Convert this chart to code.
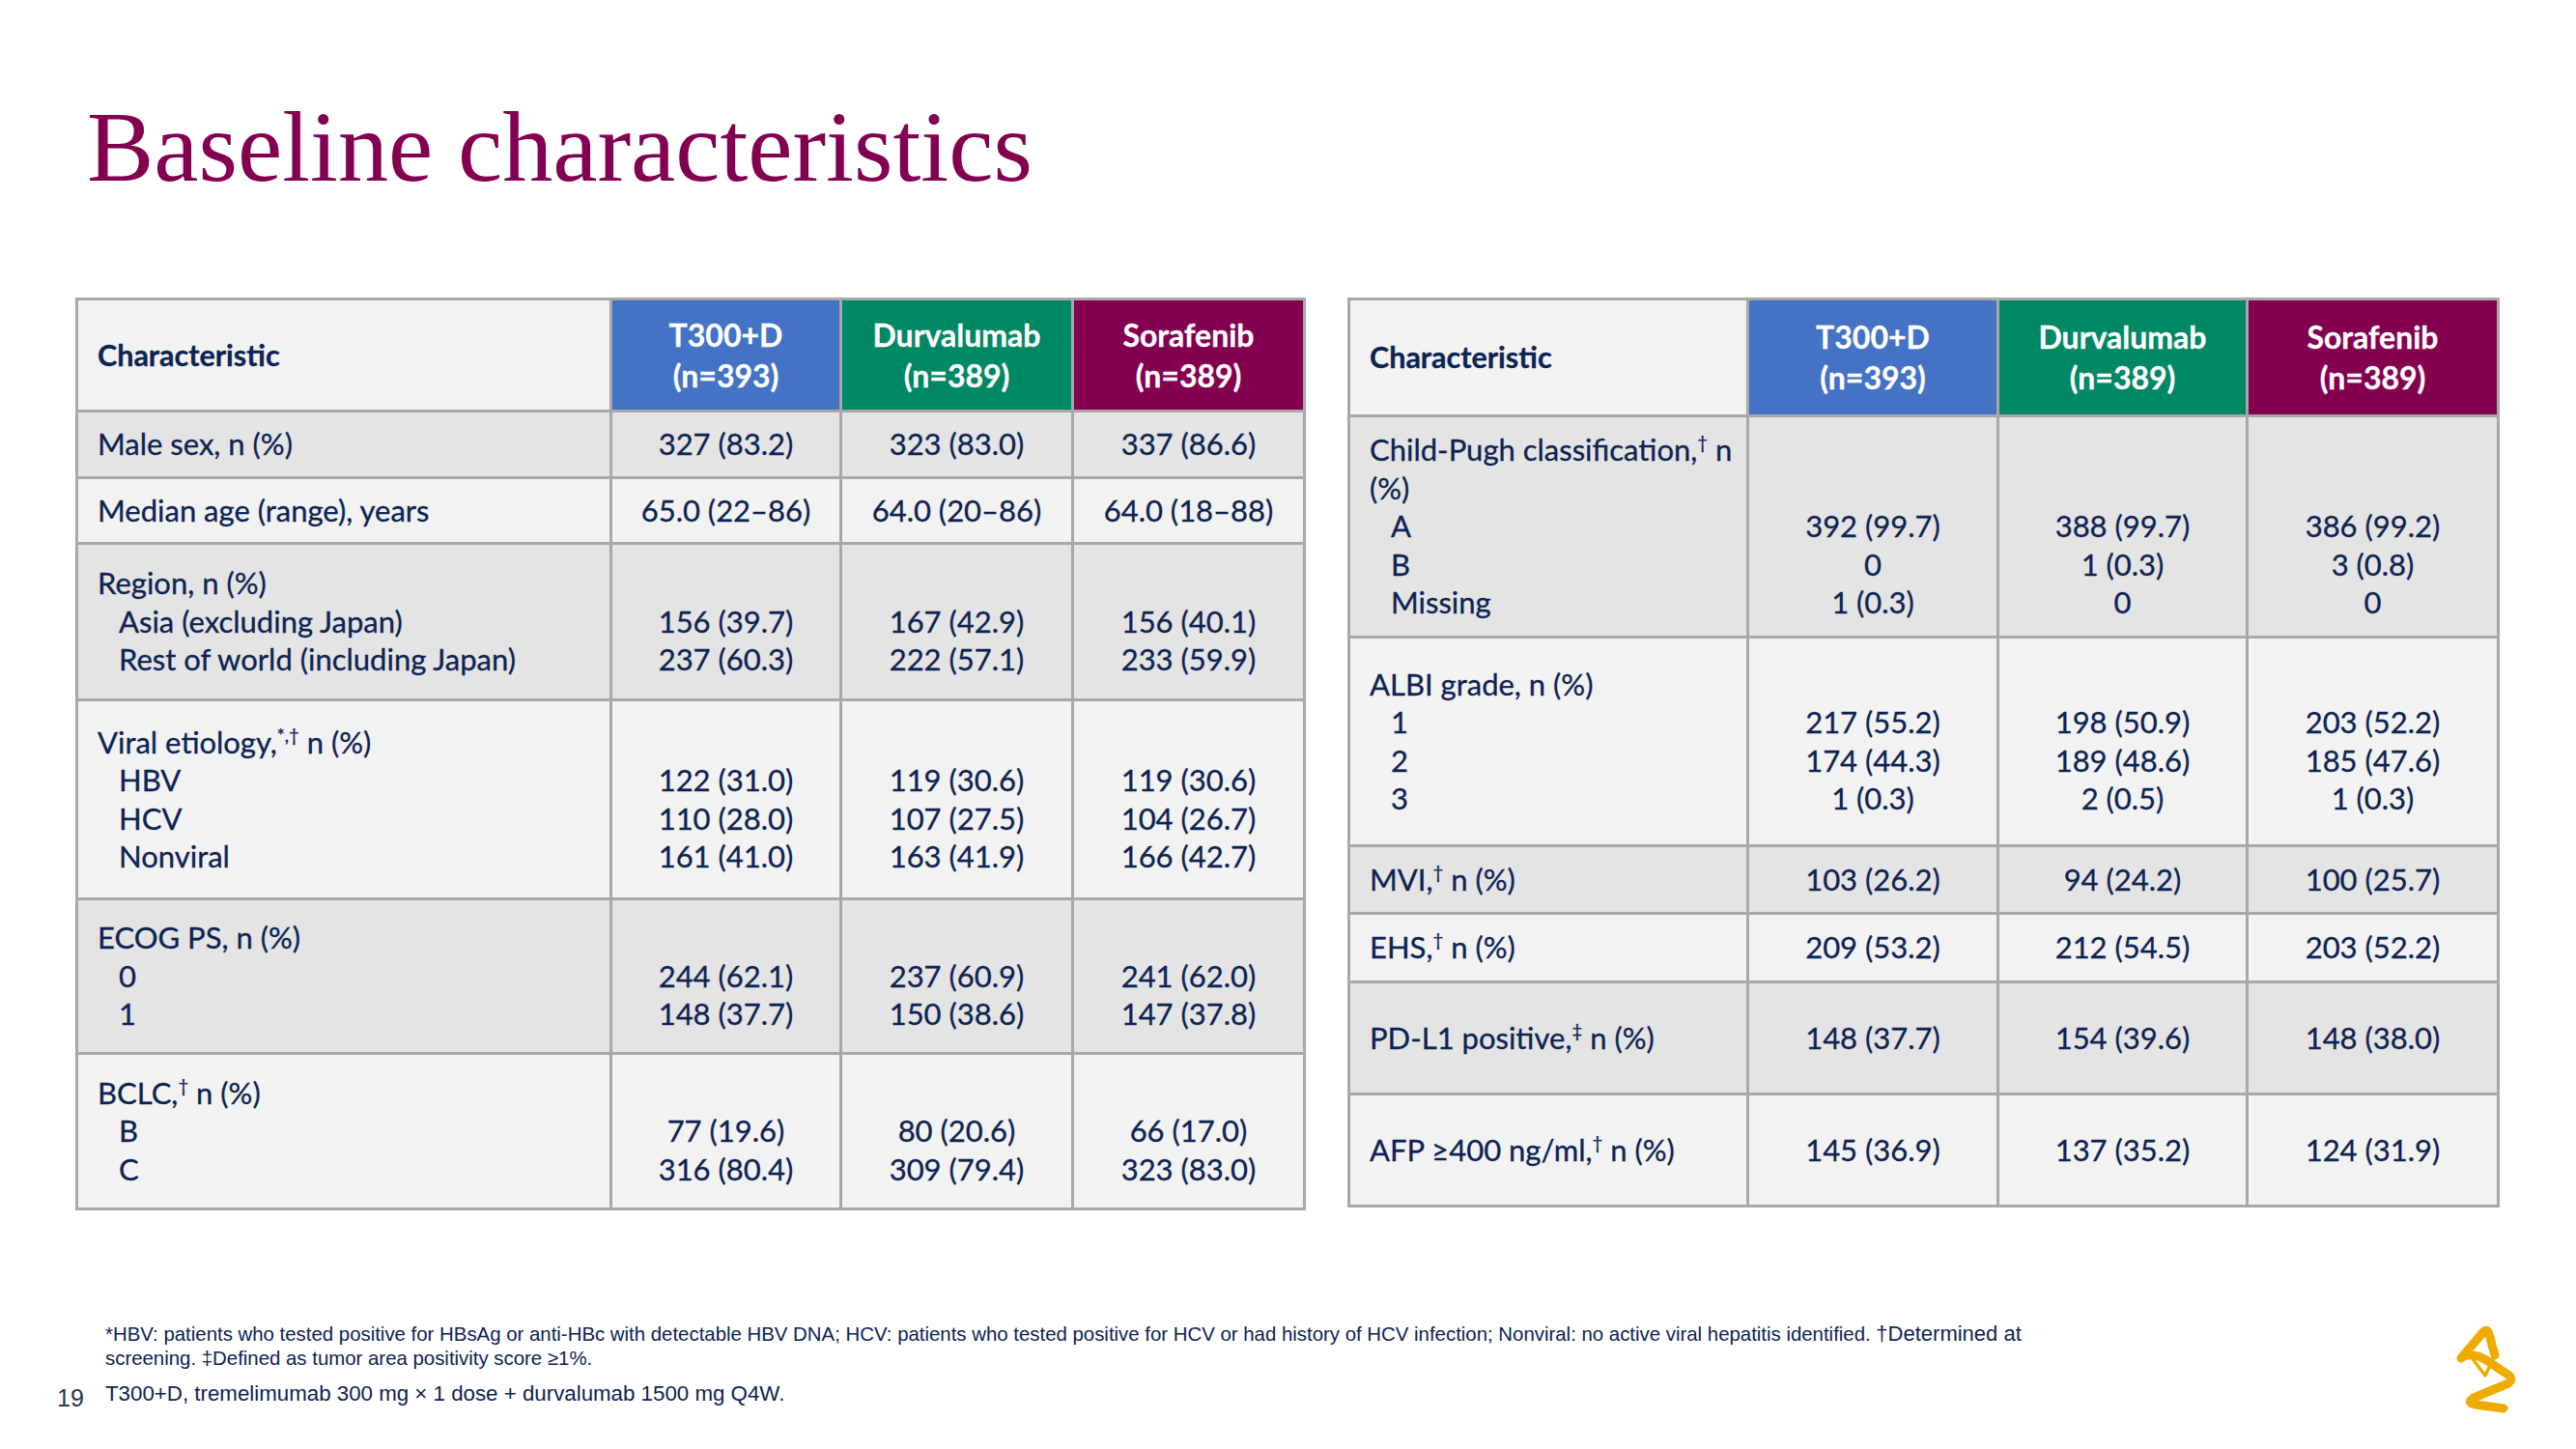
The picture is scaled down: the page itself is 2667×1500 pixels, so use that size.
<!DOCTYPE html>
<html>
<head>
<meta charset="utf-8">
<script src="https://cdn.jsdelivr.net/npm/chart.js@4.4.1/dist/chart.umd.min.js"></script>
<style>
  html, body { margin:0; padding:0; background:#fff; }
  body { width:2667px; height:1500px; position:relative; overflow:hidden; font-family:Lato, "Open Sans", sans-serif; color:#0d2352; }
  #title { position:absolute; left:90px; top:100px; font-family:"Liberation Serif", "DejaVu Serif", serif; font-size:104px; line-height:104px; color:#830051; white-space:nowrap; }
  table.bt { position:absolute; border-collapse:collapse; table-layout:fixed; font-size:31px; -webkit-text-stroke:0.3px #0d2352; }
  table.bt td, table.bt th { border:3px solid #a8a8a8; padding:0 0 0 20px; vertical-align:middle; line-height:39.5px; white-space:nowrap; }
  table.bt th { font-weight:700; text-align:left; font-size:30.5px; }
  table.bt th.g { color:#fff; text-align:center; padding:0; font-size:32px; line-height:42px; -webkit-text-stroke:0.3px #fff; }
  table.bt td.v { text-align:center; padding:0; }
  .sub { padding-left:22px; }
  sup { font-size:0.6em; line-height:0; vertical-align:0.65em; }
  .dk { background:#e4e4e4; }
  .lt { background:#f2f2f2; }
  #fn { position:absolute; left:109px; top:1368px; font-family:"Liberation Sans", Arial, sans-serif; font-size:20.4px; line-height:25px; color:#0d2352; white-space:nowrap; }
  #abbr { position:absolute; left:109px; top:1429px; font-family:"Liberation Sans", Arial, sans-serif; font-size:22.3px; line-height:27px; color:#0d2352; white-space:nowrap; }
  #pg { position:absolute; left:59px; top:1432px; font-family:"Liberation Sans", Arial, sans-serif; font-size:25px; line-height:30px; color:#2a3550; }
  #logo { position:absolute; left:2530px; top:1366px; }
</style>
</head>
<body>
<script>
// ---- data ----
const groups = ['T300+D', 'Durvalumab', 'Sorafenib'];
const groupN = ['(n=393)', '(n=389)', '(n=389)'];
const groupColors = ['#4472c4', '#008763', '#830051'];

const leftLabels = [
  ['Male sex, n (%)'],
  ['Median age (range), years'],
  ['Region, n (%)', 'Asia (excluding Japan)', 'Rest of world (including Japan)'],
  ['Viral etiology,<sup>*,†</sup> n (%)', 'HBV', 'HCV', 'Nonviral'],
  ['ECOG PS, n (%)', '0', '1'],
  ['BCLC,<sup>†</sup> n (%)', 'B', 'C']
];
const leftT300D = [['327 (83.2)'], ['65.0 (22–86)'], ['', '156 (39.7)', '237 (60.3)'], ['', '122 (31.0)', '110 (28.0)', '161 (41.0)'], ['', '244 (62.1)', '148 (37.7)'], ['', '77 (19.6)', '316 (80.4)']];
const leftDurva = [['323 (83.0)'], ['64.0 (20–86)'], ['', '167 (42.9)', '222 (57.1)'], ['', '119 (30.6)', '107 (27.5)', '163 (41.9)'], ['', '237 (60.9)', '150 (38.6)'], ['', '80 (20.6)', '309 (79.4)']];
const leftSoraf = [['337 (86.6)'], ['64.0 (18–88)'], ['', '156 (40.1)', '233 (59.9)'], ['', '119 (30.6)', '104 (26.7)', '166 (42.7)'], ['', '241 (62.0)', '147 (37.8)'], ['', '66 (17.0)', '323 (83.0)']];

const rightLabels = [
  ['Child-Pugh classification,<sup>†</sup> n', '(%)', 'A', 'B', 'Missing'],
  ['ALBI grade, n (%)', '1', '2', '3'],
  ['MVI,<sup>†</sup> n (%)'],
  ['EHS,<sup>†</sup> n (%)'],
  ['PD-L1 positive,<sup>‡</sup> n (%)'],
  ['AFP ≥400 ng/ml,<sup>†</sup> n (%)']
];
const rightT300D = [['', '', '392 (99.7)', '0', '1 (0.3)'], ['', '217 (55.2)', '174 (44.3)', '1 (0.3)'], ['103 (26.2)'], ['209 (53.2)'], ['148 (37.7)'], ['145 (36.9)']];
const rightDurva = [['', '', '388 (99.7)', '1 (0.3)', '0'], ['', '198 (50.9)', '189 (48.6)', '2 (0.5)'], ['94 (24.2)'], ['212 (54.5)'], ['154 (39.6)'], ['137 (35.2)']];
const rightSoraf = [['', '', '386 (99.2)', '3 (0.8)', '0'], ['', '203 (52.2)', '185 (47.6)', '1 (0.3)'], ['100 (25.7)'], ['203 (52.2)'], ['148 (38.0)'], ['124 (31.9)']];

// ---- layout (styles only) ----
const leftLayout = { x: 78, y: 308, cols: [553, 238, 240, 240], head: 116, rows: [69, 68, 162, 206, 160, 161], shade: ['dk', 'lt', 'dk', 'lt', 'dk', 'lt'], subFrom: [9, 9, 1, 1, 1, 1] };
const rightLayout = { x: 1395, y: 308, cols: [413, 259, 258, 260], head: 121, rows: [229, 216, 70, 71, 116, 116], shade: ['dk', 'lt', 'dk', 'lt', 'dk', 'lt'], subFrom: [2, 1, 9, 9, 9, 9] };

function buildTable(labels, seriesList, L) {
  const t = document.createElement('table');
  t.className = 'bt';
  t.style.left = L.x + 'px';
  t.style.top = L.y + 'px';
  t.style.width = L.cols.reduce((a, b) => a + b, 0) + 'px';
  const cg = document.createElement('colgroup');
  L.cols.forEach(w => { const c = document.createElement('col'); c.style.width = w + 'px'; cg.appendChild(c); });
  t.appendChild(cg);
  const hr = document.createElement('tr');
  hr.style.height = L.head + 'px';
  const h0 = document.createElement('th');
  h0.textContent = 'Characteristic';
  h0.className = 'lt';
  hr.appendChild(h0);
  groups.forEach((g, i) => {
    const th = document.createElement('th');
    th.className = 'g';
    th.style.background = groupColors[i];
    th.innerHTML = g + '<br>' + groupN[i];
    hr.appendChild(th);
  });
  t.appendChild(hr);
  labels.forEach((lab, r) => {
    const tr = document.createElement('tr');
    tr.style.height = L.rows[r] + 'px';
    tr.className = L.shade[r];
    const td = document.createElement('td');
    td.innerHTML = lab.map((s, k) => k >= L.subFrom[r] ? '<div class="sub">' + s + '</div>' : '<div>' + s + '</div>').join('');
    tr.appendChild(td);
    seriesList.forEach(ser => {
      const c = document.createElement('td');
      c.className = 'v';
      c.innerHTML = ser[r].map(s => '<div>' + (s === '' ? '&nbsp;' : s) + '</div>').join('');
      tr.appendChild(c);
    });
    t.appendChild(tr);
  });
  document.body.appendChild(t);
}
</script>

<div id="title">Baseline characteristics</div>

<div id="fn">*HBV: patients who tested positive for HBsAg or anti-HBc with detectable HBV DNA; HCV: patients who tested positive for HCV or had history of HCV infection; Nonviral: no active viral hepatitis identified. <span style="font-size:22px">†Determined at</span><br>screening. ‡Defined as tumor area positivity score ≥1%.</div>
<div id="pg">19</div>
<div id="abbr">T300+D, tremelimumab 300 mg × 1 dose + durvalumab 1500 mg Q4W.</div>

<svg id="logo" width="80" height="100" viewBox="2530 1366 80 100">
  <g fill="none" stroke="#f0ab00" stroke-linecap="round" stroke-linejoin="round">
    <path d="M2548 1406 L2571 1379 Q2575 1375 2577 1381 L2583 1403" stroke-width="9"/>
    <path d="M2551 1404 Q2562 1400 2574 1408 L2598 1424 Q2602 1428 2597 1432 L2561 1447 Q2553 1452 2563 1454 L2592 1458" stroke-width="9"/>
    <path d="M2558 1404 L2573 1424 L2582 1405" stroke-width="3.5"/>
  </g>
</svg>

<script>
buildTable(leftLabels, [leftT300D, leftDurva, leftSoraf], leftLayout);
buildTable(rightLabels, [rightT300D, rightDurva, rightSoraf], rightLayout);
</script>
</body>
</html>
